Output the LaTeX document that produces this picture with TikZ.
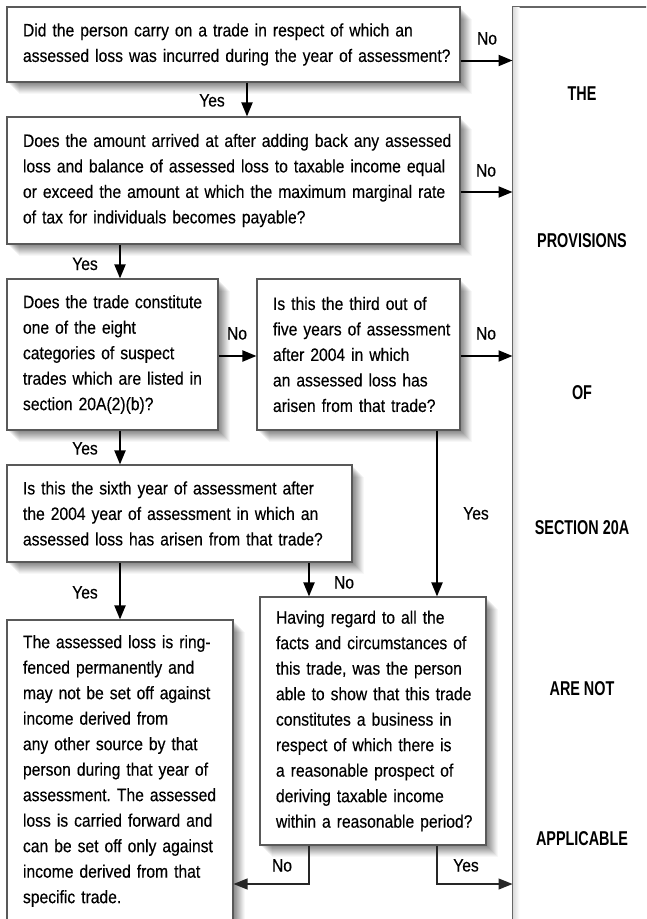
\documentclass[tikz,border=0pt]{standalone}
\usepackage{fontspec}
\setmainfont{Liberation Sans}[FakeStretch=0.87,FakeBold=0.3]
\newfontfamily\labfont{Liberation Sans}[FakeStretch=0.72]
\usetikzlibrary{arrows.meta,shadows}
\newcommand\ml[1]{\mbox{#1}}
\frenchspacing
\tikzset{
  shd/.style={
    drop shadow={shadow xshift=1pt,shadow yshift=-1pt,opacity=0.055,fill=black},
    drop shadow={shadow xshift=2pt,shadow yshift=-2pt,opacity=0.055,fill=black},
    drop shadow={shadow xshift=3pt,shadow yshift=-3pt,opacity=0.055,fill=black},
    drop shadow={shadow xshift=4pt,shadow yshift=-4pt,opacity=0.055,fill=black},
    drop shadow={shadow xshift=5pt,shadow yshift=-5pt,opacity=0.055,fill=black},
    drop shadow={shadow xshift=6pt,shadow yshift=-6pt,opacity=0.055,fill=black},
    drop shadow={shadow xshift=7pt,shadow yshift=-7pt,opacity=0.05,fill=black},
    drop shadow={shadow xshift=8pt,shadow yshift=-8pt,opacity=0.05,fill=black},
    drop shadow={shadow xshift=9pt,shadow yshift=-9pt,opacity=0.045,fill=black},
    drop shadow={shadow xshift=10pt,shadow yshift=-10pt,opacity=0.04,fill=black},
    drop shadow={shadow xshift=11pt,shadow yshift=-11pt,opacity=0.035,fill=black},
    drop shadow={shadow xshift=12pt,shadow yshift=-12pt,opacity=0.03,fill=black}},
  box/.style={shd, draw=black!65, line width=1.1pt, fill=white, align=left,
    inner xsep=16pt, inner ysep=0pt, font=\fontsize{18}{25.5}\selectfont},
  rbox/.style={draw=black!60, line width=1pt, fill=white},
  yn/.style={font=\fontsize{18}{22}\selectfont, anchor=base, inner sep=0pt},
  lab/.style={font=\labfont\bfseries\fontsize{20}{24}\selectfont, anchor=base, inner sep=0pt},
  arr/.style={draw=black, line width=2pt, -{Triangle[length=14pt,width=11pt]}},
  arrthin/.style={draw=black!85, line width=1.2pt, -{Triangle[length=14pt,width=11pt]}}
}
\begin{document}
\begin{tikzpicture}[x=1pt,y=-1pt]
\useasboundingbox (0,0) rectangle (646,919);
\fill[white] (0,0) rectangle (646,919);
\clip (0,0) rectangle (646,919);

% right column
\node[rbox, minimum width=190pt, minimum height=960pt, inner sep=0pt] (rb) at (608,487) {};
\shade[left color=black!14, right color=white] ([xshift=0.5pt,yshift=-0.5pt]rb.north west) rectangle ([xshift=7pt]rb.south west);
\draw[black!60, line width=1pt] (rb.north east) -- (rb.north west) -- (rb.south west);
\node[lab] (t1) at (582,100) {THE};
\node[lab] (t2) at (582,247) {PROVISIONS};
\node[lab] (t3) at (582,399) {OF};
\node[lab] (t4) at (582,534) {SECTION 20A};
\node[lab] (t5) at (582,695) {ARE NOT};
\node[lab] (t6) at (582,845) {APPLICABLE};

% question boxes
\node[box, text width=421pt, minimum height=75pt] (b1) at (233.5,44.5)
  {\ml{Did the person carry on a trade in respect of which an}\\
   \ml{assessed loss was incurred during the year of assessment?}};
\node[box, text width=421pt, minimum height=127pt] (b2) at (233.5,180.5)
  {\ml{Does the amount arrived at after adding back any assessed}\\
   \ml{loss and balance of assessed loss to taxable income equal}\\
   \ml{or exceed the amount at which the maximum marginal rate}\\
   \ml{of tax for individuals becomes payable?}};
\node[box, text width=179pt, minimum height=151pt] (b3) at (112.5,354.5)
  {\ml{Does the trade constitute}\\
   \ml{one of the eight}\\
   \ml{categories of suspect}\\
   \ml{trades which are listed in}\\
   \ml{section 20A(2)(b)?}};
\node[box, text width=171pt, minimum height=151pt] (b4) at (358.5,354.5)
  {\ml{Is this the third out of}\\
   \ml{five years of assessment}\\
   \ml{after 2004 in which}\\
   \ml{an assessed loss has}\\
   \ml{arisen from that trade?}};
\node[box, text width=313pt, minimum height=97pt] (b5) at (179.5,513.5)
  {\ml{Is this the sixth year of assessment after}\\
   \ml{the 2004 year of assessment in which an}\\
   \ml{assessed loss has arisen from that trade?}};
\node[box, text width=194pt, minimum height=302pt] (b6) at (120,771)
  {\ml{The assessed loss is ring-}\\
   \ml{fenced permanently and}\\
   \ml{may not be set off against}\\
   \ml{income derived from}\\
   \ml{any other source by that}\\
   \ml{person during that year of}\\
   \ml{assessment. The assessed}\\
   \ml{loss is carried forward and}\\
   \ml{can be set off only against}\\
   \ml{income derived from that}\\
   \ml{specific trade.}};
\node[box, text width=194pt, minimum height=248pt] (b7) at (373,721)
  {\ml{Having regard to all the}\\
   \ml{facts and circumstances of}\\
   \ml{this trade, was the person}\\
   \ml{able to show that this trade}\\
   \ml{constitutes a business in}\\
   \ml{respect of which there is}\\
   \ml{a reasonable prospect of}\\
   \ml{deriving taxable income}\\
   \ml{within a reasonable period?}};

% helper coordinates
\coordinate (p1) at ([yshift=-16pt]b1.east);
\coordinate (p2) at ([yshift=-11.5pt]b2.east);
\coordinate (p3) at ([yshift=-1.5pt]b3.east);
\coordinate (p4) at ([yshift=-1.5pt]b4.east);
\coordinate (q1) at ([xshift=13.5pt]b1.south);
\coordinate (q2) at ([xshift=7.5pt]b3.north);
\coordinate (q3) at ([xshift=7.5pt]b3.south);
\coordinate (q4) at ([xshift=78.5pt]b4.south);
\coordinate (q5) at ([xshift=-64pt]b7.north);
\coordinate (q6) at ([xshift=-64pt]b7.south);
\coordinate (q7) at ([xshift=64pt]b7.south);
\coordinate (yl) at (0,884);

% connectors
\draw[arr] (p1) -- (p1 -| rb.west);
\draw[arr] (p2) -- (p2 -| rb.west);
\draw[arr] (p3) -- (p3 -| b4.west);
\draw[arr] (p4) -- (p4 -| rb.west);
\draw[arr] (q1) -- (q1 |- b2.north);
\draw[arr] (q2 |- b2.south) -- (q2);
\draw[arr] (q3) -- (q3 |- b5.north);
\draw[arr] (q4) -- (q4 |- b7.north);
\draw[arr] (b6.north |- b5.south) -- (b6.north);
\draw[arr] (q5 |- b5.south) -- (q5);
\draw[arrthin] (q6) |- (b6.east |- yl);
\draw[arrthin] (q7) |- (rb.west |- yl);

% connector labels
\node[yn] (n1) at (487,44.5) {No};
\node[yn] (y1) at (212,106.5) {Yes};
\node[yn] (n2) at (486,176.5) {No};
\node[yn] (y2) at (85,270) {Yes};
\node[yn] (n3) at (237,339.5) {No};
\node[yn] (n4) at (486,339.5) {No};
\node[yn] (y3) at (85,454.5) {Yes};
\node[yn] (y4) at (476,519.5) {Yes};
\node[yn] (y5) at (85,598.5) {Yes};
\node[yn] (n5) at (344,588.5) {No};
\node[yn] (n6) at (282,871.5) {No};
\node[yn] (y6) at (466,871.5) {Yes};
\end{tikzpicture}
\end{document}
